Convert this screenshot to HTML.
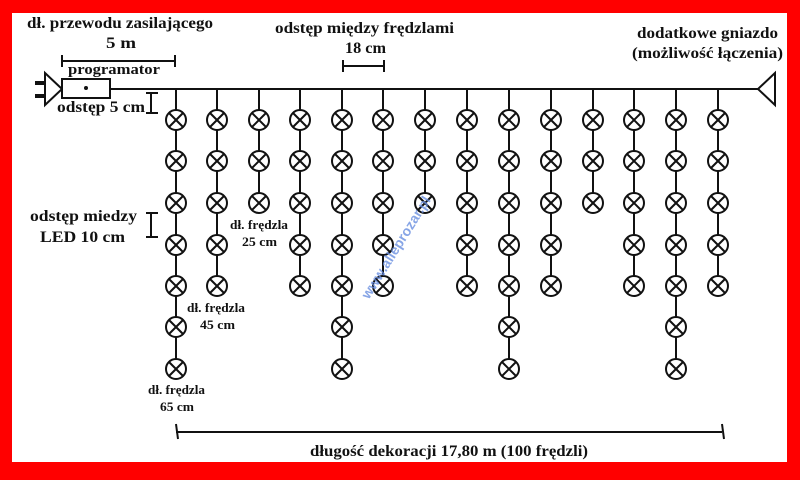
<!DOCTYPE html>
<html><head><meta charset="utf-8"><style>
html,body{margin:0;padding:0;background:#f00;}
svg{display:block}
text{font-family:"Liberation Serif",serif;font-weight:bold;fill:#111;font-size:16px}
.s{font-size:13px}
</style></head><body>
<svg width="800" height="480" viewBox="0 0 800 480" xmlns="http://www.w3.org/2000/svg">
<rect x="0" y="0" width="800" height="480" fill="#ff0000"/>
<rect x="12" y="13" width="775" height="449" fill="#ffffff"/>
<g stroke="#111" stroke-width="2" fill="none">
<line x1="110" y1="89" x2="758" y2="89"/>
<polygon points="758,89 775,73 775,105" fill="#fff"/>
<polygon points="45,73 45,105 62,89" fill="#fff"/>
<line x1="35" y1="83" x2="45" y2="83" stroke-width="4"/>
<line x1="35" y1="96" x2="45" y2="96" stroke-width="4"/>
<rect x="62" y="79" width="48" height="19" fill="#fff"/>
<line x1="62" y1="61" x2="175" y2="61"/>
<line x1="62" y1="55" x2="62" y2="67"/>
<line x1="175" y1="55" x2="175" y2="67"/>
<line x1="343" y1="66" x2="384" y2="66"/>
<line x1="343" y1="60" x2="343" y2="72"/>
<line x1="384" y1="60" x2="384" y2="72"/>
<line x1="151" y1="93" x2="151" y2="113"/>
<line x1="146" y1="93" x2="158" y2="93"/>
<line x1="146" y1="113" x2="158" y2="113"/>
<line x1="151" y1="213" x2="151" y2="237"/>
<line x1="146" y1="213" x2="158" y2="213"/>
<line x1="146" y1="237" x2="158" y2="237"/>
<line x1="176" y1="432" x2="722" y2="432"/>
<line x1="176" y1="424" x2="178" y2="439"/>
<line x1="722" y1="424" x2="724" y2="439"/>
</g>
<circle cx="86" cy="88" r="2" fill="#111"/>
<g id="strands" stroke="#111" stroke-width="2" fill="#fff"></g>
<text x="400" y="250" transform="rotate(-58 400 250)" text-anchor="middle" style="font-family:'Liberation Sans',sans-serif;font-size:14px;fill:#6a8fe0;opacity:0.8">www.alleprozar.pl</text>
<text x="27" y="28" textLength="186" lengthAdjust="spacingAndGlyphs">dł. przewodu zasilającego</text>
<text x="106" y="48" textLength="30" lengthAdjust="spacingAndGlyphs">5 m</text>
<text x="68" y="74" textLength="92" lengthAdjust="spacingAndGlyphs" style="font-size:15px">programator</text>
<text x="57" y="112" textLength="88" lengthAdjust="spacingAndGlyphs">odstęp 5 cm</text>
<text x="275" y="33" textLength="179" lengthAdjust="spacingAndGlyphs">odstęp między frędzlami</text>
<text x="345" y="53" textLength="41" lengthAdjust="spacingAndGlyphs">18 cm</text>
<text x="637" y="38" textLength="141" lengthAdjust="spacingAndGlyphs">dodatkowe gniazdo</text>
<text x="632" y="58" textLength="151" lengthAdjust="spacingAndGlyphs">(możliwość łączenia)</text>
<text x="30" y="221" textLength="107" lengthAdjust="spacingAndGlyphs">odstęp miedzy</text>
<text x="40" y="242" textLength="85" lengthAdjust="spacingAndGlyphs">LED 10 cm</text>
<text class="s" x="230" y="229" textLength="58" lengthAdjust="spacingAndGlyphs">dł. frędzla</text>
<text class="s" x="242" y="246" textLength="35" lengthAdjust="spacingAndGlyphs">25 cm</text>
<text class="s" x="187" y="312" textLength="58" lengthAdjust="spacingAndGlyphs">dł. frędzla</text>
<text class="s" x="200" y="329" textLength="35" lengthAdjust="spacingAndGlyphs">45 cm</text>
<text class="s" x="148" y="394" textLength="57" lengthAdjust="spacingAndGlyphs">dł. frędzla</text>
<text class="s" x="160" y="411" textLength="34" lengthAdjust="spacingAndGlyphs">65 cm</text>
<text x="310" y="456" textLength="278" lengthAdjust="spacingAndGlyphs">długość dekoracji 17,80 m (100 frędzli)</text>
</svg>
<script>
var xs=[176,217,259,300,342,383,425,467,509,551,593,634,676,718];
var n=[7,5,3,5,7,5,3,5,7,5,3,5,7,5];
var ys=[120,161,203,245,286,327,369];
var g=document.getElementById('strands'),s='';
for(var i=0;i<xs.length;i++){var x=xs[i],last=ys[n[i]-1];
s+='<line x1="'+x+'" y1="89" x2="'+x+'" y2="'+last+'"/>';
for(var j=0;j<n[i];j++){var y=ys[j];
s+='<circle cx="'+x+'" cy="'+y+'" r="10"/>';
s+='<line x1="'+(x-7)+'" y1="'+(y-7)+'" x2="'+(x+7)+'" y2="'+(y+7)+'"/><line x1="'+(x+7)+'" y1="'+(y-7)+'" x2="'+(x-7)+'" y2="'+(y+7)+'"/>';}}
g.innerHTML=s;
</script>
</body></html>
